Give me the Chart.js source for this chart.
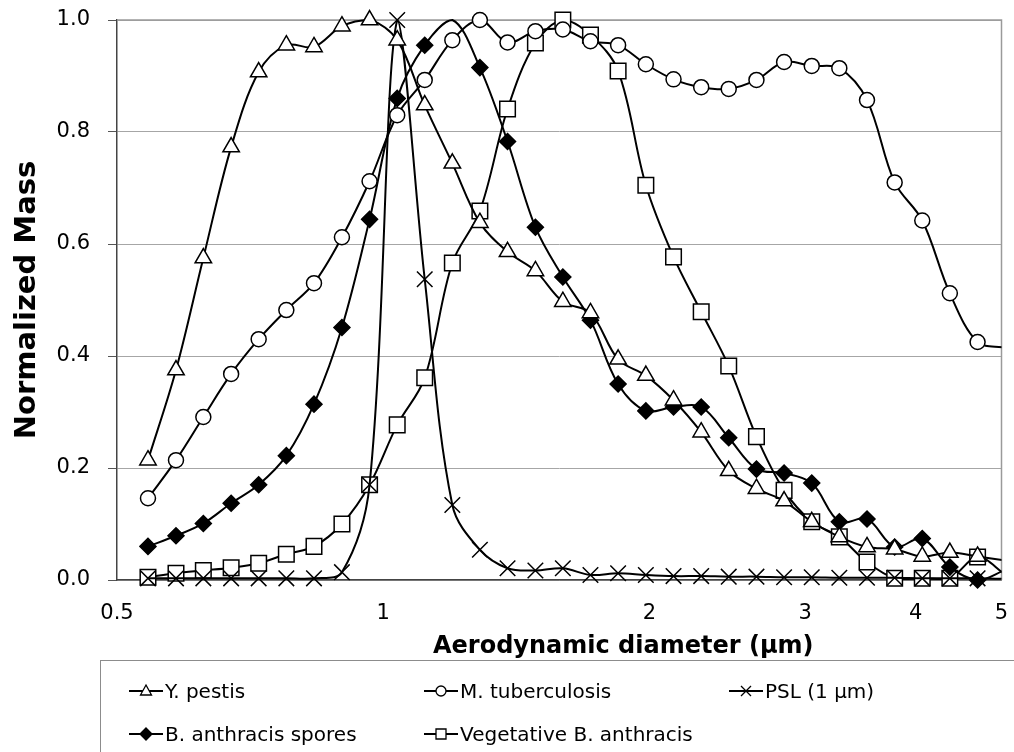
<!DOCTYPE html>
<html>
<head>
<meta charset="utf-8">
<script src="https://cdn.jsdelivr.net/npm/chart.js@4.4.0/dist/chart.umd.min.js"></script>
<style>
  body { margin: 0; background: #fff; width: 1014px; height: 752px; overflow: hidden; position: relative; font-family: "DejaVu Sans", sans-serif; }
  #wrap { position: absolute; left: 0; top: 0; width: 1014px; height: 680px; }
  #xtitle { position: absolute; left: 433px; top: 630px; font-size: 24px; font-weight: bold; line-height: 30px; white-space: nowrap; color: #000; }
  #legend { position: absolute; left: 100px; top: 660px; width: 960px; height: 140px; border: 1px solid #8c8c8c; box-sizing: border-box; }
  .item { position: absolute; display: flex; align-items: center; font-size: 20px; color: #000; white-space: nowrap; height: 24px; }
  .item canvas { margin-right: 2px; }
</style>
</head>
<body>
<div id="wrap"><canvas id="chart" width="1014" height="680"></canvas></div>
<div id="xtitle">Aerodynamic diameter (µm)</div>
<div id="legend"></div>
<script>
// APS channel midpoints (µm), last one sits just past the axis end
const diameters = [0.542, 0.583, 0.626, 0.673, 0.723, 0.777, 0.835, 0.898, 0.965, 1.037,
  1.114, 1.197, 1.286, 1.382, 1.486, 1.596, 1.715, 1.843, 1.981, 2.129,
  2.288, 2.458, 2.642, 2.839, 3.051, 3.278, 3.523, 3.786, 4.068, 4.371, 4.698, 5.048];

const seriesNames = ["Y. pestis", "M. tuberculosis", "PSL (1 µm)", "B. anthracis spores", "Vegetative B. anthracis"];

const yPestis = [0.214, 0.375, 0.575, 0.773, 0.907, 0.955, 0.952, 0.989, 1.0, 0.964,
  0.848, 0.744, 0.638, 0.586, 0.552, 0.497, 0.477, 0.394, 0.365, 0.321,
  0.264, 0.195, 0.163, 0.141, 0.104, 0.077, 0.059, 0.055, 0.042, 0.049, 0.042, 0.035];

const mTuberculosis = [0.146, 0.214, 0.291, 0.368, 0.43, 0.482, 0.53, 0.612, 0.712, 0.83,
  0.893, 0.964, 1.0, 0.96, 0.98, 0.983, 0.962, 0.955, 0.921, 0.894,
  0.88, 0.877, 0.893, 0.925, 0.918, 0.914, 0.857, 0.71, 0.642, 0.512, 0.425, 0.415];

const psl = [0.003, 0.003, 0.003, 0.003, 0.003, 0.003, 0.003, 0.014, 0.17, 1.0,
  0.537, 0.134, 0.054, 0.021, 0.017, 0.021, 0.009, 0.012, 0.009, 0.007,
  0.007, 0.006, 0.006, 0.005, 0.005, 0.004, 0.004, 0.004, 0.003, 0.003, 0.003, 0.002];

const sporesBa = [0.06, 0.079, 0.101, 0.137, 0.17, 0.222, 0.314, 0.451, 0.644, 0.86,
  0.955, 1.0, 0.915, 0.783, 0.63, 0.541, 0.464, 0.35, 0.302, 0.309,
  0.309, 0.254, 0.198, 0.191, 0.173, 0.104, 0.109, 0.059, 0.074, 0.023, 0.0, 0.018];

const vegetativeBa = [0.005, 0.012, 0.017, 0.022, 0.03, 0.046, 0.06, 0.10, 0.17, 0.277,
  0.361, 0.566, 0.659, 0.841, 0.959, 1.0, 0.973, 0.909, 0.705, 0.577,
  0.479, 0.382, 0.256, 0.16, 0.104, 0.077, 0.032, 0.003, 0.003, 0.003, 0.041, 0.01];

const xTickValues = [0.5, 1, 2, 3, 4, 5];
const xTickLabels = ["0.5", "1", "2", "3", "4", "5"];

// marker look per series (same order as seriesNames)
const markers = [
  { style: "triangle", fill: "#fff", r: 9.5 },
  { style: "circle", fill: "#fff", r: 7.5 },
  { style: "crossRot", fill: "#fff", r: 11 },
  { style: "rectRot", fill: "#000", r: 8 },
  { style: "rect", fill: "#fff", r: 11 }
];

const allValues = [yPestis, mTuberculosis, psl, sporesBa, vegetativeBa];

const datasets = allValues.map((vals, k) => ({
  label: seriesNames[k],
  data: diameters.map((d, i) => ({ x: d, y: vals[i] })),
  showLine: true,
  borderColor: "#000",
  borderWidth: 2,
  tension: 0.35,
  pointStyle: markers[k].style,
  pointBackgroundColor: markers[k].fill,
  pointBorderColor: "#000",
  pointBorderWidth: 1.5,
  // no marker past 5 µm, and the spores peak has no marker in the original
  pointRadius: (c) => {
    if (diameters[c.dataIndex] > 5) return 0;
    if (k === 3 && c.dataIndex === 11) return 0;
    return markers[k].r;
  },
  pointHoverRadius: markers[k].r,
  clip: { left: 5, top: 15, right: 0, bottom: 15 }
}));

// grey frame on top and right of plot area
const frame = {
  id: "frame",
  beforeDatasetsDraw(chart) {
    const { ctx, chartArea: a } = chart;
    ctx.save();
    ctx.strokeStyle = "#9a9a9a";
    ctx.lineWidth = 1.5;
    ctx.beginPath();
    ctx.moveTo(a.left, a.top);
    ctx.lineTo(a.right, a.top);
    ctx.lineTo(a.right, a.bottom);
    ctx.stroke();
    ctx.restore();
  }
};

new Chart(document.getElementById("chart"), {
  type: "scatter",
  data: { datasets: datasets },
  options: {
    responsive: false,
    animation: false,
    events: [],
    layout: { padding: { left: 0, right: 11, top: 20, bottom: 0 } },
    plugins: { legend: { display: false }, tooltip: { enabled: false } },
    scales: {
      x: {
        type: "logarithmic",
        min: 0.5,
        max: 5,
        afterBuildTicks: (s) => { s.ticks = xTickValues.map((v) => ({ value: v })); },
        afterFit: (s) => { s.height = 100; s.paddingLeft = 0; s.paddingRight = 0; },
        ticks: {
          callback: (v, i) => xTickLabels[i],
          font: { family: "DejaVu Sans", size: 21 },
          color: "#000",
          padding: 21,
          maxRotation: 0,
          autoSkip: false
        },
        grid: { display: false, drawTicks: false },
        border: { color: "#444", width: 1.5 },
        title: { display: false }
      },
      y: {
        min: 0,
        max: 1,
        afterFit: (s) => { s.width = 117; s.paddingTop = 0; s.paddingBottom = 0; },
        ticks: {
          stepSize: 0.2,
          callback: (v) => v.toFixed(1),
          font: { family: "DejaVu Sans", size: 21 },
          color: "#000",
          padding: 18
        },
        grid: { color: "#a6a6a6", lineWidth: 1, tickLength: 9, tickColor: "#555" },
        border: { color: "#444", width: 1.5 },
        title: {
          display: true,
          text: "Normalized Mass",
          font: { family: "DejaVu Sans", size: 29, weight: "bold" },
          color: "#000",
          padding: { top: 10, bottom: 0 }
        }
      }
    }
  },
  plugins: [frame]
});

// legend box, Excel style: short line with the marker on it
function legendMarker(style, fill) {
  const c = document.createElement("canvas");
  c.width = 34;
  c.height = 24;
  const g = c.getContext("2d");
  const x = 17, y = 12, r = 5;
  g.strokeStyle = "#000";
  g.lineWidth = 2;
  g.beginPath();
  g.moveTo(0, y);
  g.lineTo(34, y);
  g.stroke();
  g.lineWidth = 1.3;
  g.fillStyle = fill;
  g.beginPath();
  if (style === "triangle") {
    g.moveTo(x, y - 6);
    g.lineTo(x + 5.5, y + 4);
    g.lineTo(x - 5.5, y + 4);
    g.closePath();
  } else if (style === "circle") {
    g.arc(x, y, r, 0, Math.PI * 2);
  } else if (style === "crossRot") {
    g.moveTo(x - r, y - r); g.lineTo(x + r, y + r);
    g.moveTo(x + r, y - r); g.lineTo(x - r, y + r);
  } else if (style === "rectRot") {
    g.moveTo(x, y - 6); g.lineTo(x + 6, y); g.lineTo(x, y + 6); g.lineTo(x - 6, y);
    g.closePath();
  } else {
    g.rect(x - r, y - r, 2 * r, 2 * r);
  }
  if (style !== "crossRot") g.fill();
  g.stroke();
  return c;
}

const legendPos = [[28, 18], [323, 18], [628, 18], [28, 61], [323, 61]];
const legendBox = document.getElementById("legend");
seriesNames.forEach((name, k) => {
  const it = document.createElement("div");
  it.className = "item";
  it.style.left = legendPos[k][0] + "px";
  it.style.top = legendPos[k][1] + "px";
  it.appendChild(legendMarker(markers[k].style, markers[k].fill));
  const span = document.createElement("span");
  span.textContent = name;
  it.appendChild(span);
  legendBox.appendChild(it);
});
</script>
</body>
</html>
